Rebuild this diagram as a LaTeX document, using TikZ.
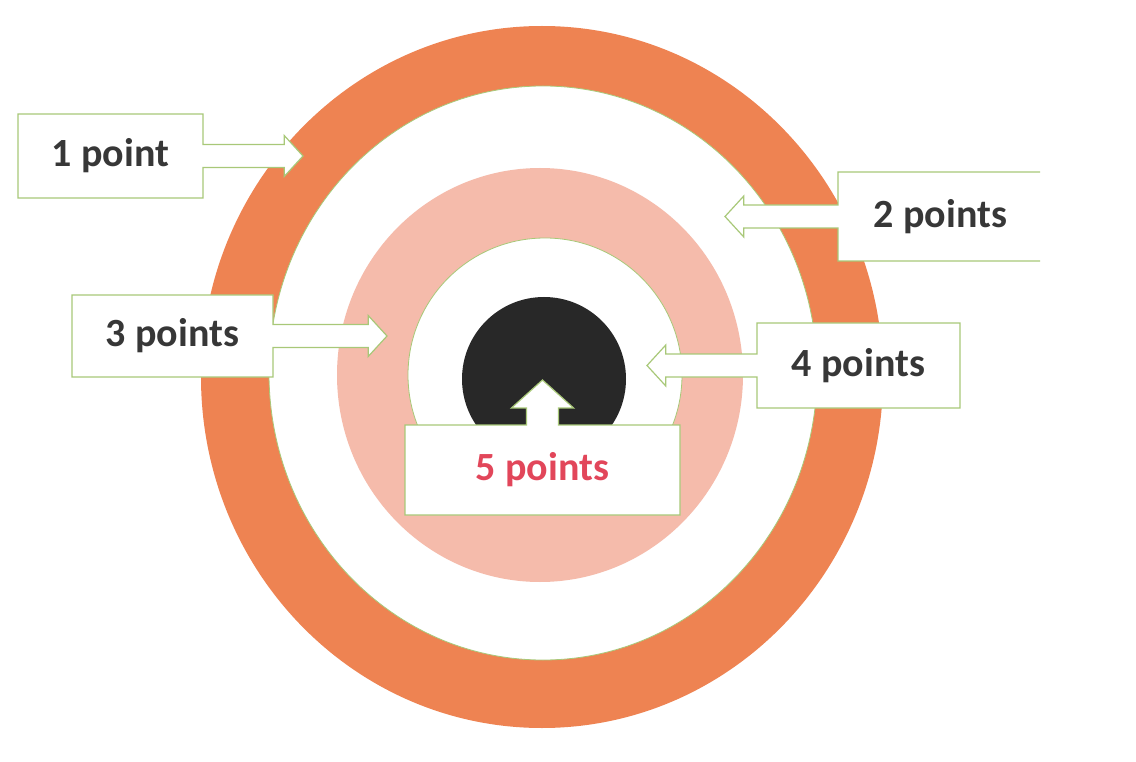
\documentclass[tikz,border=0pt]{standalone}
\usepackage{fontspec}
\setmainfont{Carlito}
\usetikzlibrary{shapes.arrows}

\definecolor{ringorange}{RGB}{238,131,82}
\definecolor{ringpink}{RGB}{245,187,171}
\definecolor{bullblack}{RGB}{40,40,40}
\definecolor{edgegreen}{RGB}{168,200,120}
\definecolor{labelgray}{RGB}{55,55,55}
\definecolor{labelred}{RGB}{226,70,90}

\begin{document}
\begin{tikzpicture}[x=1pt,y=-1pt,
  callout/.style={arrow box, draw=edgegreen, fill=white, line width=1.2pt,
    outer sep=0pt, inner sep=0pt, text=labelgray,
    font=\fontsize{40}{48}\selectfont\bfseries,
    arrow box shaft width=23pt, arrow box head extend=9pt,
    arrow box head indent=0pt, arrow box tip angle=95},
  ringedge/.style={draw=edgegreen, line width=0.8pt}]
  \useasboundingbox (0,0) rectangle (1136,762);
  \fill [white] (0,0) rectangle (1136,762);
  % target
  \fill [ringorange] (542,377) ellipse [x radius=341, y radius=351];
  \filldraw [fill=white, ringedge] (543,373) ellipse [x radius=274, y radius=287];
  \fill [ringpink] (540,375) ellipse [x radius=203, y radius=207];
  \filldraw [fill=white, ringedge] (545,375) circle [radius=137];
  \fill [bullblack] (544,379) circle [radius=82];
  % labels
  \node (one) [callout, minimum width=185pt, minimum height=84pt,
    arrow box arrows={east:100pt from border}] at (110.5,156) {1 point};
  \begin{scope}
    \clip (0,0) rectangle (1040,762);
    \node (two) [callout, minimum width=205pt, minimum height=89pt,
      arrow box arrows={west:113pt from border}] at (940.5,216.5) {2 points};
  \end{scope}
  \node (three) [callout, minimum width=201pt, minimum height=82pt,
    arrow box arrows={east:114pt from border}] at (172.5,336) {3 points};
  \node (four) [callout, minimum width=203pt, minimum height=85pt,
    arrow box arrows={west:110pt from border}] at (858.5,365.5) {4 points};
  \node (five) [callout, minimum width=275pt, minimum height=90pt, text=labelred,
    arrow box shaft width=32pt, arrow box head extend=15pt, arrow box tip angle=96,
    arrow box arrows={north:45pt from border}] at (542.5,470) {5 points};
\end{tikzpicture}
\end{document}
